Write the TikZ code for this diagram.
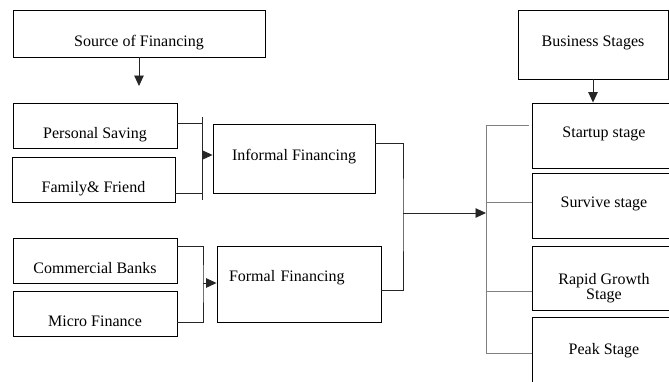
\documentclass[tikz,border=0pt]{standalone}
\usepackage{fontspec}
\setmainfont{Liberation Serif}
\usetikzlibrary{arrows.meta}

\begin{document}
\begin{tikzpicture}[x=1pt, y=-1pt,
        box/.style={draw, line width=0.9pt, inner sep=0pt, font=\fontsize{16}{15}\selectfont},
        low/.style={text height=30pt, text depth=4pt},
        mid/.style={text height=8pt, text depth=4pt},
        link/.style={line width=0.9pt, black!85},
        bracket/.style={line width=1pt, gray},
        arr/.style={-{Triangle[length=10.5pt, width=9.5pt]}}]
        \clip (0,0) rectangle (669,381);

        % sources
        \node[box, low, minimum width=252pt, minimum height=47pt] (src) at (139,33.5) {Source of Financing};
        \coordinate (srcend) at (139,86);
        \draw[link, arr] (src.south) -- (srcend);

        \node[box, low, minimum width=164pt, minimum height=45pt] (ps) at (95,125.5) {Personal Saving};
        \node[box, low, minimum width=163pt, minimum height=45pt] (ff) at (93.5,179.5) {Family\& Friend};
        \node[box, mid, minimum width=162pt, minimum height=69pt] (inf) at (294,158.5) {Informal Financing};

        \node[box, low, minimum width=164pt, minimum height=45pt] (cb) at (95,260.5) {Commercial Banks};
        \node[box, low, minimum width=164pt, minimum height=45pt] (mf) at (95,313.5) {Micro Finance};
        \node[box, text height=2pt, text depth=7pt, text width=140pt, align=left,
              minimum width=164pt, minimum height=76pt] (frm) at (299,284) {Formal Financing};

        \coordinate (infbar) at (202,155);
        \draw[link] ([yshift=2.5pt]ps.east) -- ([yshift=2.5pt]ps.east -| infbar);
        \draw[link] ([yshift=-13.5pt]ff.east) -- ([yshift=-13.5pt]ff.east -| infbar);
        \draw[link] ([yshift=38pt]infbar) -- ([yshift=-45pt]infbar);
        \draw[link, arr] (infbar) -- (infbar -| inf.west);

        \coordinate (frmbar) at (203,283);
        \draw[link] ([yshift=14.5pt]cb.east) -| (frmbar) |- ([yshift=-8.5pt]mf.east);
        \draw[link, arr] (frmbar) -- (frmbar -| frm.west);

        % join to the stages
        \coordinate (joinpt) at (403,213);
        \coordinate (stagebar) at (486,213);
        \draw[link] ([yshift=15.5pt]inf.east) -| (joinpt) |- ([yshift=-6pt]frm.east);
        \draw[link, arr] (joinpt) -- (stagebar);

        % stages
        \node[box, mid, minimum width=150pt, minimum height=69pt] (bs) at (593,44.5) {Business Stages};
        \node[box, mid, minimum width=144pt, minimum height=65pt] (st) at (604,135.5) {Startup stage};
        \node[box, mid, minimum width=144pt, minimum height=65pt] (sv) at (604,205.5) {Survive stage};
        \node[box, align=center, text height=53pt, text depth=11pt,
              minimum width=144pt, minimum height=64pt] (rg) at (604,278) {Rapid Growth\\Stage};
        \node[box, mid, minimum width=144pt, minimum height=70pt] (pk) at (604,352) {Peak Stage};

        \draw[link, arr] (bs.south) -- (bs.south |- st.north);

        \draw[bracket] ([yshift=10.5pt,xshift=-3pt]st.west) -| ([yshift=-1pt]pk.west -| stagebar) -- ([yshift=-1pt]pk.west);
        \draw[bracket] ([yshift=3.5pt]sv.west) -- ([yshift=3.5pt]sv.west -| stagebar);
        \draw[bracket] ([yshift=-13pt]rg.west) -- ([yshift=-13pt]rg.west -| stagebar);
\end{tikzpicture}
\end{document}
